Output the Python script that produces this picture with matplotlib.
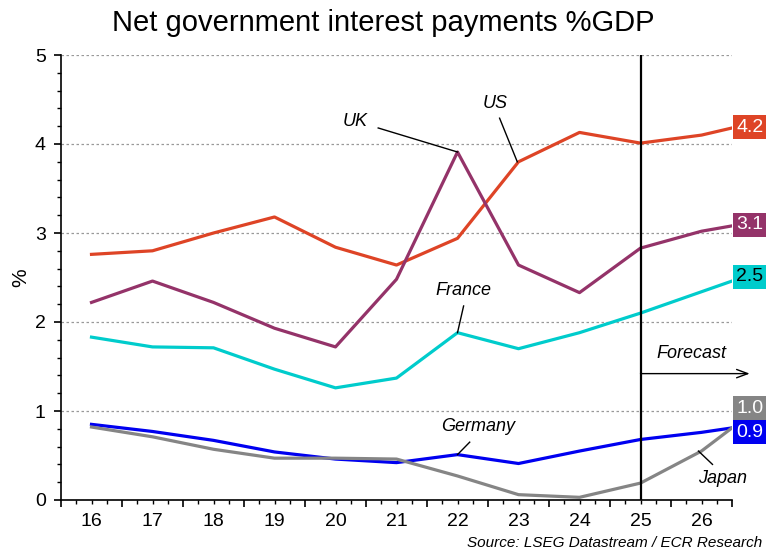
import numpy as np
import matplotlib
matplotlib.use('Agg')
import matplotlib.pyplot as plt
from matplotlib.ticker import FixedLocator, FuncFormatter

plt.rcParams['font.family'] = ['Liberation Sans', 'DejaVu Sans']

# annual points, the last one (27) falls just outside the visible range
years = [16, 17, 18, 19, 20, 21, 22, 23, 24, 25, 26, 27]
us = [2.76, 2.80, 3.00, 3.18, 2.84, 2.64, 2.94, 3.80, 4.13, 4.01, 4.10, 4.26]
uk = [2.22, 2.46, 2.22, 1.93, 1.72, 2.48, 3.91, 2.64, 2.33, 2.83, 3.02, 3.14]
france = [1.83, 1.72, 1.71, 1.47, 1.26, 1.37, 1.88, 1.70, 1.88, 2.10, 2.34, 2.58]
germany = [0.85, 0.77, 0.67, 0.54, 0.46, 0.42, 0.51, 0.41, 0.55, 0.68, 0.76, 0.86]
japan = [0.82, 0.71, 0.57, 0.47, 0.47, 0.46, 0.27, 0.06, 0.03, 0.19, 0.55, 1.07]

end_labels = ['4.2', '3.1', '2.5', '1.0', '0.9']
forecast_start = 25

c_us = '#de4426'
c_uk = '#943369'
c_fr = '#00cccc'
c_de = '#0000f0'
c_jp = '#858585'

fig = plt.figure(figsize=(7.66, 5.51), dpi=100)
ax = fig.add_axes([61/766, 51/551, 671/766, 445/551])

ax.plot(years, germany, color=c_de, lw=2.3, zorder=3)
ax.plot(years, japan, color=c_jp, lw=2.3, zorder=3)
ax.plot(years, france, color=c_fr, lw=2.3, zorder=3)
ax.plot(years, us, color=c_us, lw=2.3, zorder=3)
ax.plot(years, uk, color=c_uk, lw=2.3, zorder=3)

ax.set_xlim(15.5, 26.5)
ax.set_ylim(0, 5)

for s in ['top', 'right']:
    ax.spines[s].set_visible(False)
ax.spines['left'].set_linewidth(1.2)
ax.spines['bottom'].set_linewidth(1.2)

# x axis: long ticks between years, short quarterly ticks, year labels
ax.xaxis.set_major_locator(FixedLocator(np.arange(15.5, 26.51, 1.0)))
ax.xaxis.set_major_formatter(FuncFormatter(lambda v, p: ''))
ax.xaxis.set_minor_locator(FixedLocator(np.arange(15.75, 26.3, 0.25)))
ax.xaxis.set_minor_formatter(FuncFormatter(
    lambda v, p: str(int(round(v))) if abs(v - round(v)) < 1e-6 else ''))
ax.tick_params(axis='x', which='major', length=5, width=1.2, direction='out')
ax.tick_params(axis='x', which='minor', length=3, width=1, direction='out',
               labelsize=14, pad=6)

ax.set_yticks(range(0, 6))
ax.yaxis.set_minor_locator(FixedLocator(np.arange(0, 5.01, 0.2)))
ax.tick_params(axis='y', which='major', length=5, width=1.2, labelsize=14, pad=6)
ax.tick_params(axis='y', which='minor', length=3, width=1)
ax.set_ylabel('%', fontsize=15, labelpad=3)

ax.grid(axis='y', which='major', linestyle=(0, (2, 2)), color='#999999', lw=0.9)
ax.set_axisbelow(True)

# forecast marker
ax.axvline(forecast_start, color='black', lw=1.6, zorder=4)
ax.annotate('', xy=(26.79, 1.42), xytext=(forecast_start, 1.42),
            arrowprops=dict(arrowstyle='->,head_length=0.8,head_width=0.3',
                            color='black', lw=1, shrinkA=0, shrinkB=0),
            annotation_clip=False)
ax.text(25.84, 1.65, 'Forecast', fontsize=13, style='italic',
        ha='center', va='center')

# country labels with leader lines
notes = [
    ('UK', (20.33, 4.25), [(20.70, 4.18), (22.0, 3.91)]),
    ('US', (22.61, 4.46), [(22.69, 4.29), (22.98, 3.80)]),
    ('France', (22.10, 2.35), [(22.10, 2.18), (22.0, 1.88)]),
    ('Germany', (22.34, 0.83), [(22.20, 0.65), (22.0, 0.51)]),
    ('Japan', (26.34, 0.24), [(26.18, 0.40), (25.95, 0.55)]),
]
for name, (tx, ty), seg in notes:
    ax.text(tx, ty, name, fontsize=13, style='italic', ha='center', va='center')
    ax.plot([seg[0][0], seg[1][0]], [seg[0][1], seg[1][1]],
            color='black', lw=1, zorder=5)

# end value boxes
box_y = [4.19, 3.09, 2.51, 1.03, 0.76]
box_fc = [c_us, c_uk, c_fr, c_jp, c_de]
box_tc = ['white', 'white', 'black', 'white', 'white']
for lab, y, fc, tc in zip(end_labels, box_y, box_fc, box_tc):
    ax.annotate(lab, xy=(1.0, y), xycoords=('axes fraction', 'data'),
                xytext=(3, 0), textcoords='offset points',
                ha='left', va='center', fontsize=14, color=tc,
                bbox=dict(boxstyle='square,pad=0.18', fc=fc, ec='none'),
                annotation_clip=False)

fig.text(0.5, 0.958, 'Net government interest payments %GDP',
         fontsize=21, ha='center', va='center')
fig.text(762/766, 8/551, 'Source: LSEG Datastream / ECR Research',
         fontsize=11, style='italic', ha='right', va='center')

fig.savefig('out.png', dpi=100)
